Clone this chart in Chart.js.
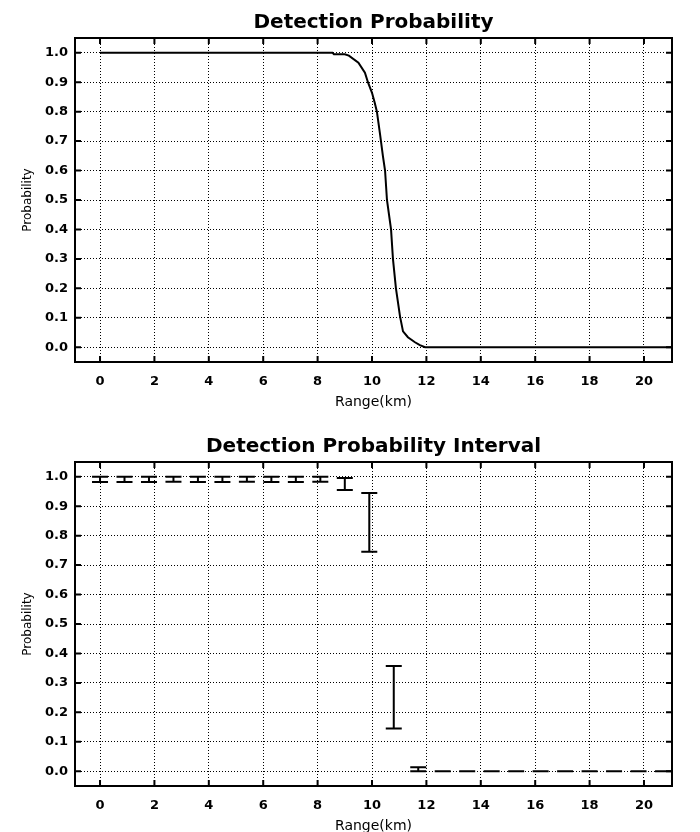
<!DOCTYPE html>
<html>
<head>
<meta charset="utf-8">
<script src="https://cdn.jsdelivr.net/npm/chart.js@4.4.1/dist/chart.umd.min.js"></script>
<style>
  html, body { margin: 0; padding: 0; background: #fff; overflow: hidden; }
  .box { position: absolute; left: 0; width: 700px; height: 424px; }
</style>
</head>
<body>
<div class="box" style="top:0"><canvas id="chartDetection" width="700" height="424"></canvas></div>
<div class="box" style="top:424px"><canvas id="chartInterval" width="700" height="424"></canvas></div>
<script>
// x ticks (km) and y ticks (probability)
const rangeTicks = [0, 2, 4, 6, 8, 10, 12, 14, 16, 18, 20];
const probTicks = [0, 0.1, 0.2, 0.3, 0.4, 0.5, 0.6, 0.7, 0.8, 0.9, 1.0];

// detection probability curve
const curveRange = [0, 8.55, 8.6, 9.0, 9.15, 9.5, 9.74, 9.85, 10.0, 10.1, 10.18, 10.3, 10.4, 10.48, 10.55, 10.7, 10.77, 10.88, 11.03, 11.14, 11.32, 11.58, 11.76, 11.95, 21.03];
const curveProb  = [1.0, 1.0, 0.995, 0.995, 0.99, 0.966, 0.932, 0.90, 0.864, 0.83, 0.80, 0.72, 0.65, 0.60, 0.50, 0.40, 0.30, 0.20, 0.105, 0.054, 0.034, 0.017, 0.007, 0.0, 0.0];

// detection probability interval (lower / upper bound at each sample range)
const intervalRange = [0, 0.9, 1.8, 2.7, 3.6, 4.5, 5.4, 6.3, 7.2, 8.1, 9.0, 9.9, 10.8, 11.7, 12.6, 13.5, 14.4, 15.3, 16.2, 17.1, 18.0, 18.9, 19.8, 20.7];
const intervalLow  = [0.982, 0.982, 0.982, 0.983, 0.982, 0.982, 0.983, 0.982, 0.982, 0.983, 0.955, 0.745, 0.145, 0.0, 0, 0, 0, 0, 0, 0, 0, 0, 0, 0];
const intervalHigh = [1.0, 1.0, 1.0, 1.0, 1.0, 1.0, 1.0, 1.0, 1.0, 1.0, 0.996, 0.945, 0.357, 0.014, 0, 0, 0, 0, 0, 0, 0, 0, 0, 0];

const X_MIN = -0.92, X_MAX = 21.03;
const Y_MIN = -0.05, Y_MAX = 1.05;
const FONT = "'DejaVu Sans', sans-serif";

Chart.defaults.animation = false;

function buildScales() {
  return {
    x: {
      type: "linear",
      min: X_MIN,
      max: X_MAX,
      afterBuildTicks: s => { s.ticks = rangeTicks.map(v => ({ value: v })); },
      afterFit: s => { s.height = 62; },
      grid: { color: "#000", lineWidth: 1, drawTicks: false },
      border: { display: false, dash: [1, 2] },
      ticks: {
        color: "#000", padding: 12, maxRotation: 0, autoSkip: false,
        font: { family: FONT, size: 13, weight: "bold" },
        callback: v => String(v),
      },
      title: {
        display: true, text: "Range(km)", color: "#000",
        font: { family: FONT, size: 14 }, padding: { top: 0, bottom: 13 },
      },
    },
    y: {
      type: "linear",
      min: Y_MIN,
      max: Y_MAX,
      afterBuildTicks: s => { s.ticks = probTicks.map(v => ({ value: v })); },
      afterFit: s => { s.width = 75; },
      grid: { color: "#000", lineWidth: 1, drawTicks: false },
      border: { display: false, dash: [1, 2] },
      ticks: {
        color: "#000", padding: 7, autoSkip: false,
        font: { family: FONT, size: 13, weight: "bold" },
        callback: v => Number(v).toFixed(1),
      },
      title: {
        display: true, text: "Probability", color: "#000",
        font: { family: FONT, size: 12 }, padding: { top: 21, bottom: 0 },
      },
    },
  };
}

function buildPlugins(titleText) {
  return {
    legend: { display: false },
    tooltip: { enabled: false },
    title: {
      display: true, text: titleText, fullSize: false, color: "#000",
      font: { family: FONT, size: 20, weight: "bold" },
      padding: { top: 11, bottom: 3 },
    },
  };
}

// frame around the plot with inward tick marks on all four sides
const framePlugin = {
  id: "frame",
  afterDraw(chart) {
    const { ctx, chartArea: a, scales: { x, y } } = chart;
    ctx.save();
    ctx.setLineDash([]);
    ctx.strokeStyle = "#000";
    ctx.lineWidth = 2;
    ctx.strokeRect(a.left, a.top, a.right - a.left, a.bottom - a.top);
    ctx.beginPath();
    x.ticks.forEach(t => {
      const p = x.getPixelForValue(t.value);
      ctx.moveTo(p, a.bottom); ctx.lineTo(p, a.bottom - 6);
      ctx.moveTo(p, a.top); ctx.lineTo(p, a.top + 6);
    });
    y.ticks.forEach(t => {
      const p = y.getPixelForValue(t.value);
      ctx.moveTo(a.left, p); ctx.lineTo(a.left + 6, p);
      ctx.moveTo(a.right, p); ctx.lineTo(a.right - 6, p);
    });
    ctx.stroke();
    ctx.restore();
  },
};

// I-shaped interval bars read from the dataset's yMin / yMax
const errorBarPlugin = {
  id: "errorBars",
  afterDatasetsDraw(chart) {
    const { ctx, scales: { x, y } } = chart;
    const ds = chart.data.datasets[0];
    ctx.save();
    ctx.strokeStyle = "#000";
    ctx.lineWidth = 2;
    ds.data.forEach(d => {
      const px = x.getPixelForValue(d.x);
      const lo = y.getPixelForValue(d.yMin);
      const hi = y.getPixelForValue(d.yMax);
      ctx.beginPath();
      ctx.moveTo(px, lo); ctx.lineTo(px, hi);
      ctx.moveTo(px - 8, lo); ctx.lineTo(px + 8, lo);
      ctx.moveTo(px - 8, hi); ctx.lineTo(px + 8, hi);
      ctx.stroke();
    });
    ctx.restore();
  },
};

new Chart(document.getElementById("chartDetection"), {
  type: "scatter",
  data: {
    datasets: [{
      data: curveRange.map((r, i) => ({ x: r, y: curveProb[i] })),
      showLine: true,
      borderColor: "#000",
      borderWidth: 2,
      pointRadius: 0,
      tension: 0,
    }],
  },
  options: {
    responsive: false,
    devicePixelRatio: 1,
    layout: { padding: { left: 0, right: 28, top: 0, bottom: 0 } },
    scales: buildScales(),
    plugins: buildPlugins("Detection Probability"),
  },
  plugins: [framePlugin],
});

new Chart(document.getElementById("chartInterval"), {
  type: "scatter",
  data: {
    datasets: [{
      data: intervalRange.map((r, i) => ({
        x: r, y: (intervalLow[i] + intervalHigh[i]) / 2,
        yMin: intervalLow[i], yMax: intervalHigh[i],
      })),
      pointRadius: 0,
      showLine: false,
    }],
  },
  options: {
    responsive: false,
    devicePixelRatio: 1,
    layout: { padding: { left: 0, right: 28, top: 0, bottom: 0 } },
    scales: buildScales(),
    plugins: buildPlugins("Detection Probability Interval"),
  },
  plugins: [errorBarPlugin, framePlugin],
});
</script>
</body>
</html>
